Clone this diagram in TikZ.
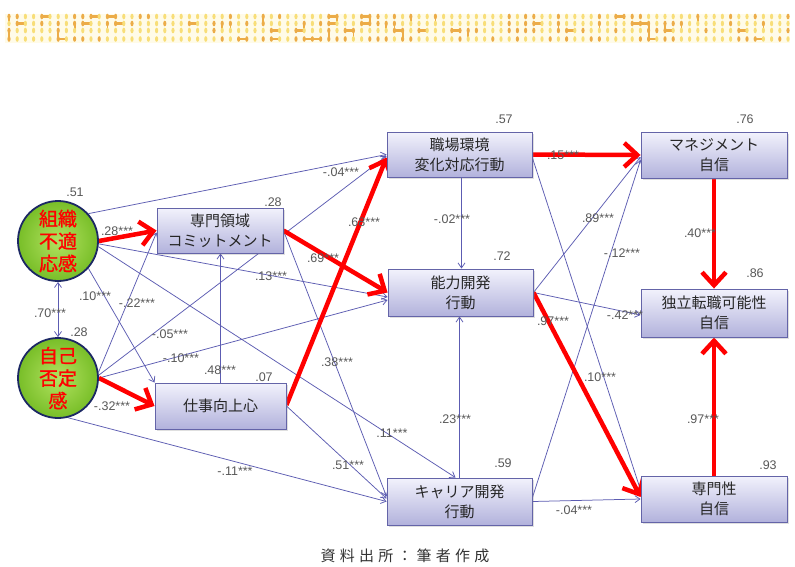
\documentclass[tikz,border=0pt]{standalone}
\usepackage{fontspec}
\setmainfont{Liberation Sans}
\newfontfamily\jp{Noto Sans CJK JP}
\newfontfamily\jpb[FakeBold=1]{Noto Sans CJK JP}
\newfontfamily\jpcap[LetterSpace=28]{Noto Sans CJK JP}
\usetikzlibrary{arrows.meta,shadows,backgrounds}
\definecolor{edgeblue}{RGB}{92,92,178}
\definecolor{redarrow}{RGB}{255,0,0}
\definecolor{boxtop}{RGB}{242,242,252}
\definecolor{boxbot}{RGB}{178,178,220}
\definecolor{boxline}{RGB}{100,100,168}
\definecolor{labgray}{RGB}{88,88,88}
\definecolor{circin}{RGB}{178,226,96}
\definecolor{circout}{RGB}{120,190,40}
\definecolor{circline}{RGB}{28,40,100}
\definecolor{dotor}{RGB}{236,172,72}
\definecolor{dotye}{RGB}{248,222,120}
\definecolor{bandbg}{RGB}{255,251,232}
\begin{document}
\begin{tikzpicture}[x=1pt,y=-1pt,
  box/.style={rectangle, draw=boxline, line width=0.9pt, top color=boxtop, bottom color=boxbot,
    minimum width=145pt, minimum height=46pt, inner sep=0pt, align=center,
    font=\jp\fontsize{15}{20}\selectfont, text=black!85,
    drop shadow={shadow xshift=1.5pt,shadow yshift=-1.5pt,opacity=0.25}},
  latent/.style={circle, draw=circline, line width=1.8pt, inner color=circin, outer color=circout,
    minimum size=80pt, inner sep=0pt, align=center, font=\jpb\fontsize{19}{22.5}\selectfont, text=redarrow},
  bl/.style={draw=edgeblue, line width=0.75pt, -{Straight Barb[length=5pt,width=7pt]}},
  rd/.style={draw=redarrow, line width=4.5pt, -{Straight Barb[length=13pt,width=24pt]}},
  lab/.style={font=\fontsize{12.5}{12.5}\selectfont, text=labgray, inner sep=0pt}
]
\useasboundingbox (0,0) rectangle (795,566);

% nodes
\node[latent] (A) at (58,241) {組織\\不適\\応感};
\node[latent] (B) at (58,378) {自己\\否定\\感};
\node[box, minimum width=126pt, minimum height=45pt] (C) at (220,230.5) {専門領域\\コミットメント};
\node[box, minimum width=131pt, minimum height=46pt] (D) at (220.5,406) {仕事向上心};
\node[box, minimum height=45pt] (E) at (459.5,154.5) {職場環境\\変化対応行動};
\node[box, minimum height=47pt] (F) at (460.5,292.5) {能力開発\\行動};
\node[box, minimum height=47pt] (G) at (459.5,501.5) {キャリア開発\\行動};
\node[box, minimum width=146pt] (H) at (714,155) {マネジメント\\自信};
\node[box, minimum width=146pt, minimum height=48pt] (I) at (714,313) {独立転職可能性\\自信};
\node[box, minimum width=146pt] (J) at (714,499) {専門性\\自信};

\begin{scope}[on background layer]
  \fill[white] (0,0) rectangle (795,566);
  % decorative band
  \pgfmathsetseed{12}
  \fill[bandbg] (5,14) rectangle (790,43);
  \foreach \yy/\vb in {16.5/1,23.5/1,30.5/1,39/0}{
    \foreach \c in {0,...,95}{
      \pgfmathsetmacro{\xx}{9+8.2*\c}
      \pgfmathrandominteger{\k}{0}{9}
      \ifnum\k<4\relax
        \fill[dotor] (\xx,\yy) ellipse[x radius=1.6pt,y radius=2.8pt];
      \else
        \fill[dotye] (\xx,\yy) ellipse[x radius=1.6pt,y radius=2.8pt];
      \fi
      \ifnum\k<1\relax
        \fill[dotor] (\xx,\yy-1.1) rectangle (\xx+8.2,\yy+1.1);
      \fi
      \ifnum\k=2\relax\ifnum\vb=1\relax
        \fill[dotor] (\xx-0.9,\yy) rectangle (\xx+0.9,\yy+7);
      \fi\fi
    }
  }
  % blue paths
  \draw[bl] (A.42) -- (E.west);
  \draw[bl] (A.-4) -- ([yshift=-4.5pt]F.west);
  \draw[bl] (A.-42) -- (D.north west);
  \draw[bl] (A.-8) -- ([xshift=-4pt]G.north);
  \draw[bl, {Straight Barb[length=5pt,width=7pt]}-{Straight Barb[length=5pt,width=7pt]}] (A.south) -- (B.north);
  \draw[bl] (B.8) -- ([yshift=-2pt]C.west);
  \draw[bl] (B.4) -- ([yshift=-1.5pt]E.west);
  \draw[bl] (B.east) -- ([yshift=-7.5pt]F.west);
  \draw[bl] (B.-76) -- (G.west);
  \draw[bl] (D.north) -- (D.north |- C.south);
  \draw[bl] (D.east) -- ([yshift=3pt]G.west);
  \draw[bl] (C.east) -- ([yshift=5pt]G.west);
  \draw[bl] ([xshift=2pt]E.south) -- ([xshift=1pt]F.north);
  \draw[bl] (G.north) -- (G.north |- F.south);
  \draw[bl] ([yshift=-3.5pt]E.east) -- ([yshift=9pt]J.west);
  \draw[bl] (F.east) -- ([yshift=-2pt]H.west);
  \draw[bl] (F.east) -- ([yshift=-2pt]I.west);
  \draw[bl] ([yshift=4pt]G.east) -- ([yshift=-5pt]H.west);
  \draw[bl] (G.east) -- (J.west);
  % red paths
  \draw[rd] (A.east) -- (C.west);
  \draw[rd] (B.east) -- (D.west);
  \draw[rd] ([yshift=1pt]D.east) -- ([yshift=-3pt]E.west);
  \draw[rd] (C.east) -- (F.west);
  \draw[rd] (E.east) -- (H.west);
  \draw[rd] (F.east) -- ([yshift=2pt]J.west);
  \draw[rd] (H.south) -- (I.north);
  \draw[rd] (J.north) -- (I.south);
\end{scope}

% R^2 values
\node[lab] (rA) at (75,192) {.51};
\node[lab] (rB) at (79,332) {.28};
\node[lab] (rC) at (273,202) {.28};
\node[lab] (rD) at (264,377) {.07};
\node[lab] (rE) at (504,119) {.57};
\node[lab] (rF) at (502,256) {.72};
\node[lab] (rG) at (503,463) {.59};
\node[lab] (rH) at (745,119) {.76};
\node[lab] (rI) at (755,273) {.86};
\node[lab] (rJ) at (768,465) {.93};

% path coefficients
\node[lab] (cAC) at (117,231) {.28***};
\node[lab] (cAB) at (50,313) {.70***};
\node[lab] (cAD) at (95,296) {.10***};
\node[lab] (cBC) at (137,303) {-.22***};
\node[lab] (cAF) at (271,276) {.13***};
\node[lab] (cBE) at (170,334) {-.05***};
\node[lab] (cBF) at (181,358) {-.10***};
\node[lab] (cDC) at (220,370) {.48***};
\node[lab] (cBD) at (112,406) {-.32***};
\node[lab] (cBG) at (235,471) {-.11***};
\node[lab] (cAE) at (341,172) {-.04***};
\node[lab] (cDE) at (364,222) {.68***};
\node[lab] (cCF) at (323,258) {.69***};
\node[lab] (cCG) at (337,362) {.38***};
\node[lab] (cAG) at (392,433) {.11***};
\node[lab] (cDG) at (348,465) {.51***};
\node[lab] (cEF) at (452,219) {-.02***};
\node[lab] (cGF) at (455,419) {.23***};
\node[lab] (cEH) at (563,155) {.15***};
\node[lab] (cFH) at (598,218) {.89***};
\node[lab] (cGH) at (622,253) {-.12***};
\node[lab] (cHI) at (700,233) {.40***};
\node[lab] (cFI) at (625,315) {-.42***};
\node[lab] (cFJ) at (553,321) {.97***};
\node[lab] (cEJ) at (600,377) {.10***};
\node[lab] (cJI) at (703,419) {.97***};
\node[lab] (cGJ) at (574,510) {-.04***};

% caption
\node[font=\jpcap\fontsize{15}{15}\selectfont, text=black!80, inner sep=0pt] (cap) at (405,556) {資料出所：筆者作成};
\end{tikzpicture}
\end{document}
